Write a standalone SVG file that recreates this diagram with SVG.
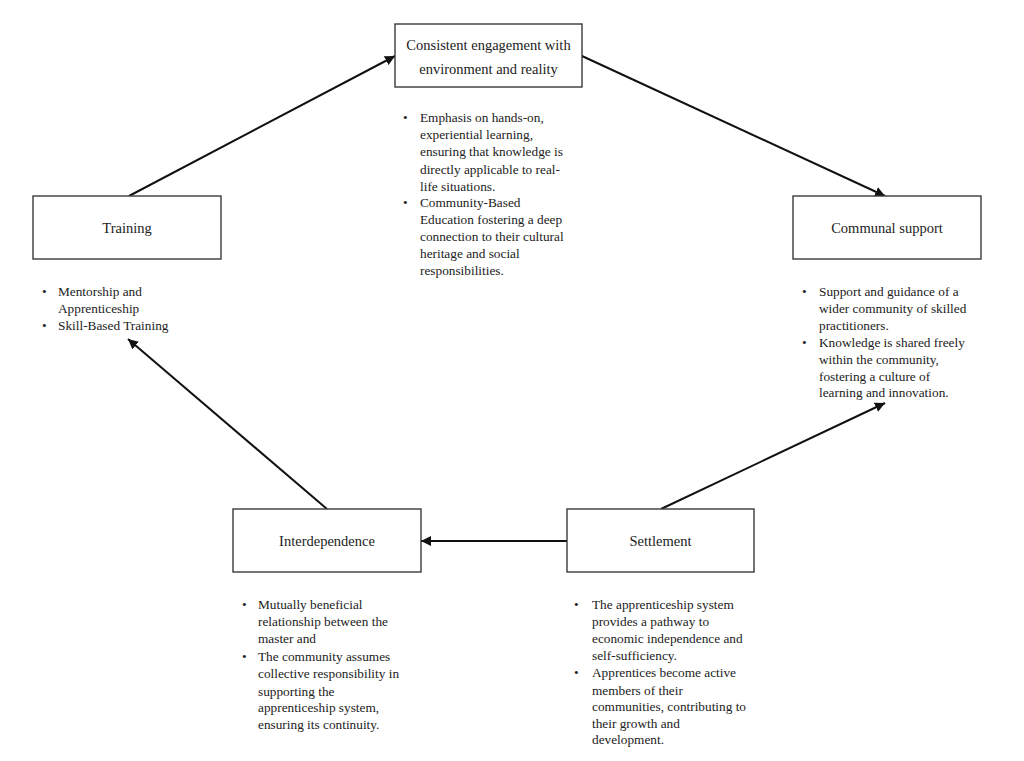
<svg xmlns="http://www.w3.org/2000/svg" width="1024" height="761" viewBox="0 0 1024 761">
<style>
.box{fill:#fff;stroke:#3a3a3a;stroke-width:1.4}
.lbl{font-family:"Liberation Serif","Times New Roman",serif;font-size:14.5px;fill:#222;text-anchor:middle}
.txt{font-family:"Liberation Serif","Times New Roman",serif;font-size:13.3px;fill:#222}
.con{stroke:#111;stroke-width:2;fill:none;marker-end:url(#ah)}
</style>
<defs>
<marker id="ah" viewBox="0 0 10 10" refX="10" refY="5" markerWidth="5" markerHeight="5" orient="auto" markerUnits="strokeWidth">
<path d="M0,0 L10,5 L0,10 z" fill="#111"/>
</marker>
</defs>
<rect width="1024" height="761" fill="#fff"/>
<g id="connectors">
<line class="con" x1="129" y1="196" x2="395" y2="56"/>
<line class="con" x1="582" y1="56" x2="885" y2="196"/>
<line class="con" x1="661" y1="509" x2="885" y2="403"/>
<line class="con" x1="567" y1="541" x2="421" y2="541"/>
<line class="con" x1="327" y1="509" x2="128" y2="339"/>
</g>
<g id="node-engagement">
<rect class="box" x="395" y="24" width="187" height="63"/>
<text class="lbl" x="488.5" y="50">Consistent engagement with</text>
<text class="lbl" x="488.5" y="74">environment and reality</text>
<text class="txt"><tspan x="403" y="122">•</tspan><tspan x="420" y="122">Emphasis on hands-on,</tspan><tspan x="420" y="139">experiential learning,</tspan><tspan x="420" y="156">ensuring that knowledge is</tspan><tspan x="420" y="174">directly applicable to real-</tspan><tspan x="420" y="191">life situations.</tspan><tspan x="403" y="207">•</tspan><tspan x="420" y="207">Community-Based</tspan><tspan x="420" y="224">Education fostering a deep</tspan><tspan x="420" y="241">connection to their cultural</tspan><tspan x="420" y="258">heritage and social</tspan><tspan x="420" y="275">responsibilities.</tspan></text>
</g>
<g id="node-training">
<rect class="box" x="33" y="196" width="188" height="63"/>
<text class="lbl" x="127" y="233">Training</text>
<text class="txt"><tspan x="42" y="296">•</tspan><tspan x="58" y="296">Mentorship and</tspan><tspan x="58" y="313">Apprenticeship</tspan><tspan x="42" y="330">•</tspan><tspan x="58" y="330">Skill-Based Training</tspan></text>
</g>
<g id="node-communal">
<rect class="box" x="793" y="196" width="188" height="63"/>
<text class="lbl" x="887" y="233">Communal support</text>
<text class="txt"><tspan x="802" y="296">•</tspan><tspan x="819" y="296">Support and guidance of a</tspan><tspan x="819" y="313">wider community of skilled</tspan><tspan x="819" y="330">practitioners.</tspan><tspan x="802" y="347">•</tspan><tspan x="819" y="347">Knowledge is shared freely</tspan><tspan x="819" y="364">within the community,</tspan><tspan x="819" y="381">fostering a culture of</tspan><tspan x="819" y="397">learning and innovation.</tspan></text>
</g>
<g id="node-interdependence">
<rect class="box" x="233" y="509" width="188" height="63"/>
<text class="lbl" x="327" y="546">Interdependence</text>
<text class="txt"><tspan x="242" y="609">•</tspan><tspan x="258" y="609">Mutually beneficial</tspan><tspan x="258" y="626">relationship between the</tspan><tspan x="258" y="643">master and</tspan><tspan x="242" y="661">•</tspan><tspan x="258" y="661">The community assumes</tspan><tspan x="258" y="678">collective responsibility in</tspan><tspan x="258" y="696">supporting the</tspan><tspan x="258" y="712">apprenticeship system,</tspan><tspan x="258" y="729">ensuring its continuity.</tspan></text>
</g>
<g id="node-settlement">
<rect class="box" x="567" y="509" width="187" height="63"/>
<text class="lbl" x="660.5" y="546">Settlement</text>
<text class="txt"><tspan x="574" y="609">•</tspan><tspan x="592" y="609">The apprenticeship system</tspan><tspan x="592" y="626">provides a pathway to</tspan><tspan x="592" y="643">economic independence and</tspan><tspan x="592" y="660">self-sufficiency.</tspan><tspan x="574" y="677">•</tspan><tspan x="592" y="677">Apprentices become active</tspan><tspan x="592" y="695">members of their</tspan><tspan x="592" y="711">communities, contributing to</tspan><tspan x="592" y="728">their growth and</tspan><tspan x="592" y="744">development.</tspan></text>
</g>
</svg>
